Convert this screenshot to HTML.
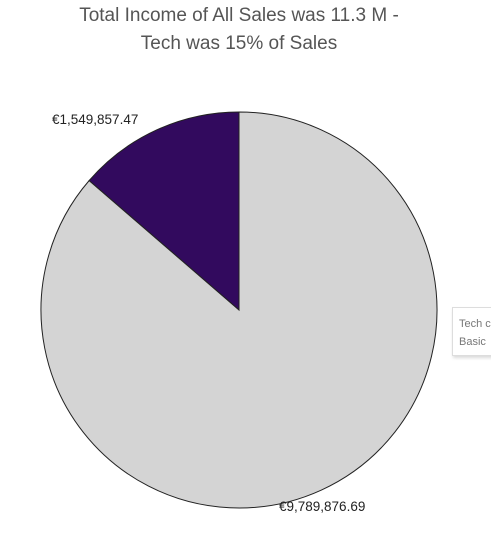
<!DOCTYPE html>
<html><head><meta charset="utf-8"><style>
body{margin:0;width:491px;height:538px;background:#fff;overflow:hidden;font-family:"Liberation Sans",sans-serif;position:relative}
#title{position:absolute;left:0;width:478px;top:2px;text-align:center;font-size:19px;line-height:28px;color:#555}
#legend{position:absolute;left:452px;top:307px;width:60px;height:49px;border:1px solid #ddd;box-shadow:1px 2px 3px rgba(0,0,0,0.15);background:#fff;font-size:11px;color:#777;line-height:18px;padding:7px 0 0 6px;box-sizing:border-box;white-space:nowrap}
</style></head><body>
<div id="title">Total Income of All Sales was 11.3 M -<br>Tech was 15% of Sales</div>
<svg id="chart" width="491" height="538" style="position:absolute;left:0;top:0"></svg>
<div id="legend"><div>Tech c</div><div>Basic</div></div>
<script>
const categories=["Tech","Basic"];
const values=[1549857.47,9789876.69];
const labels=["€1,549,857.47","€9,789,876.69"];
const colors=["#320a5e","#d4d4d4"];
const svg=document.getElementById('chart');
const NS="http://www.w3.org/2000/svg";
const cx=239,cy=310,r=198;
const total=values.reduce((a,b)=>a+b,0);
const techA=values[0]/total*2*Math.PI;
function pt(a){return [cx+r*Math.sin(a),cy-r*Math.cos(a)];}
const slices=[[-techA,0],[0,2*Math.PI-techA]];
slices.forEach((s,i)=>{
  const p0=pt(s[0]),p1=pt(s[1]);
  const large=(s[1]-s[0])>Math.PI?1:0;
  const p=document.createElementNS(NS,'path');
  p.setAttribute('d',`M${cx},${cy}L${p0[0]},${p0[1]}A${r},${r} 0 ${large} 1 ${p1[0]},${p1[1]}Z`);
  p.setAttribute('fill',colors[i]);p.setAttribute('stroke','#222');p.setAttribute('stroke-width','1');
  
  
  svg.appendChild(p);
});
const lpos=[[52,124],[279,511]];
labels.forEach((l,i)=>{
  const t=document.createElementNS(NS,'text');
  t.setAttribute('x',lpos[i][0]);t.setAttribute('y',lpos[i][1]);
  t.setAttribute('font-size','13.5');t.setAttribute('fill','#222');
  t.setAttribute('font-family','Liberation Sans, sans-serif');
  t.textContent=l;
  
  
  svg.appendChild(t);
});
</script>
</body></html>
